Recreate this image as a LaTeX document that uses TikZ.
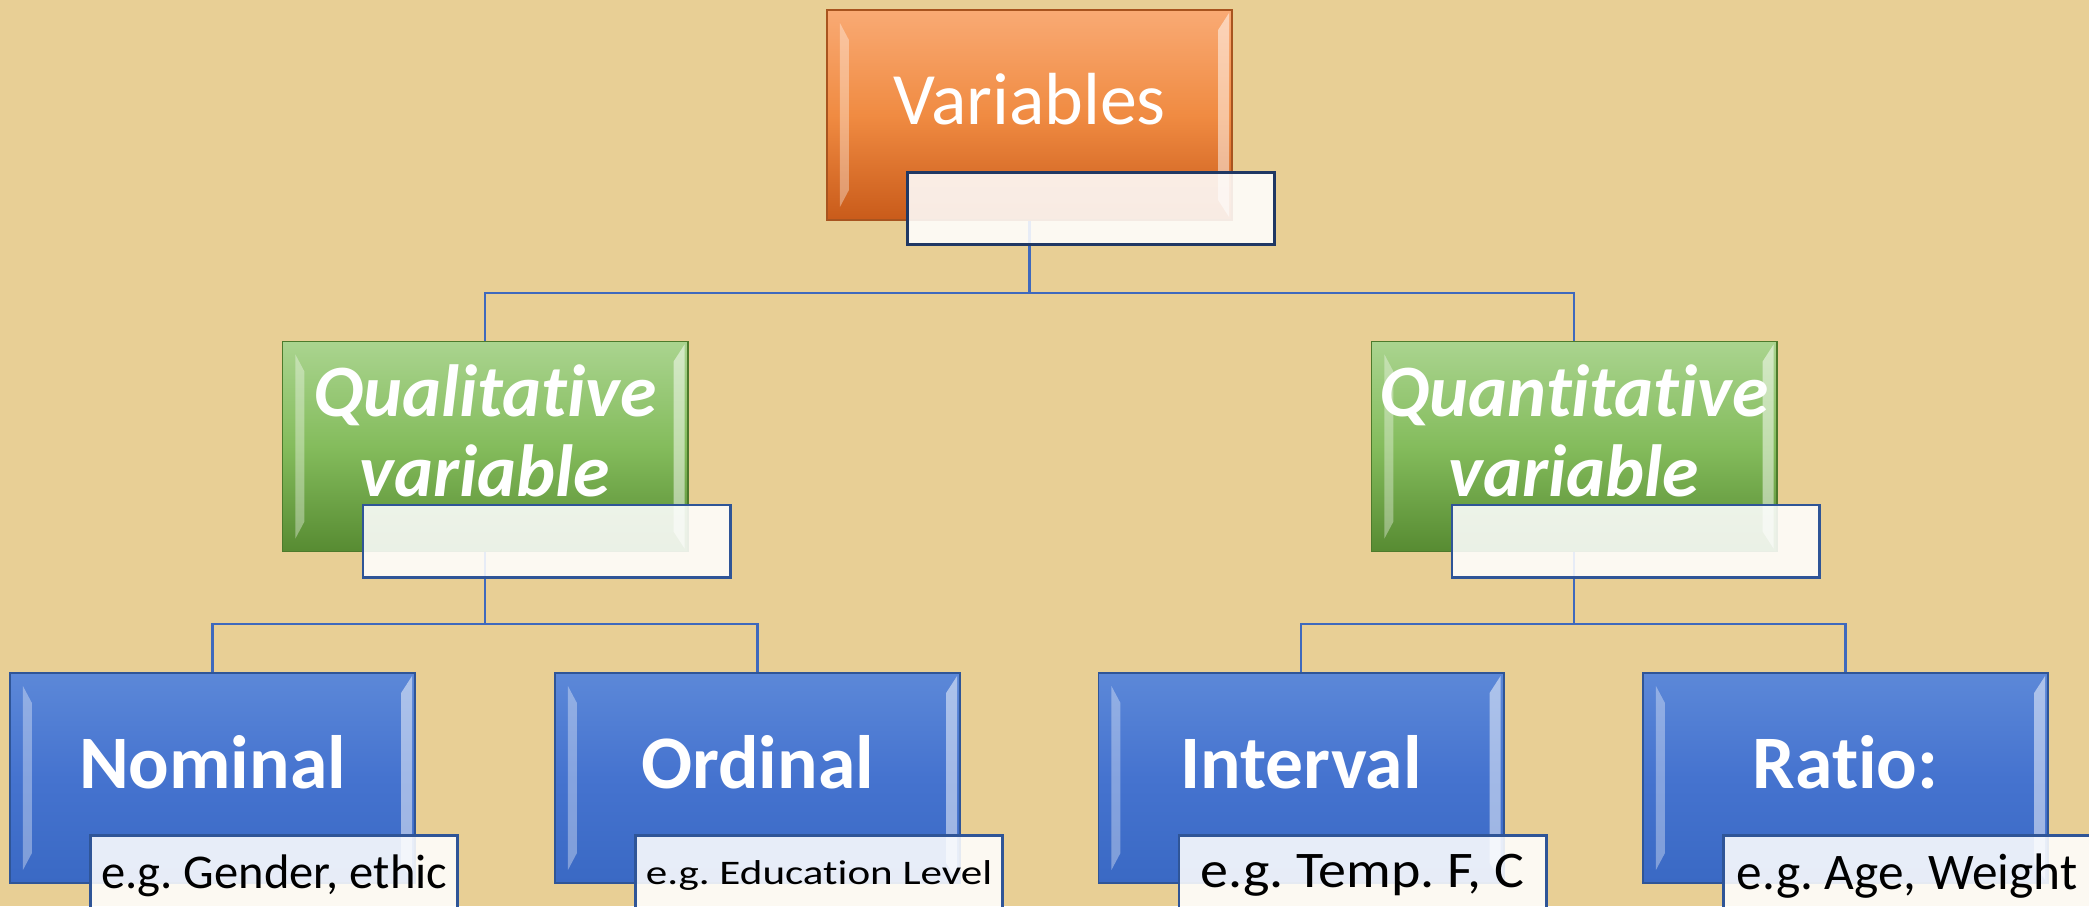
\documentclass[tikz,border=0pt]{standalone}
\usepackage{fontspec}
\setmainfont{Carlito}[Ligatures={NoCommon}]
\usepackage{tikz}
\usetikzlibrary{positioning, calc}
\frenchspacing
\definecolor{paper}{HTML}{E8CF95}
\definecolor{orangetop}{HTML}{F9AA74}
\definecolor{orangemid}{HTML}{F08B42}
\definecolor{orangebot}{HTML}{C95B1A}
\definecolor{orangeline}{HTML}{A8541F}
\definecolor{greentop}{HTML}{AAD48F}
\definecolor{greenmid}{HTML}{84BC5C}
\definecolor{greenbot}{HTML}{578B32}
\definecolor{greenline}{HTML}{4D7A2C}
\definecolor{bluetop}{HTML}{5C88D8}
\definecolor{bluemid}{HTML}{4573CF}
\definecolor{bluebot}{HTML}{3A69C4}
\definecolor{blueline}{HTML}{2F5597}
\definecolor{rootline}{HTML}{203864}
\definecolor{linkblue}{HTML}{3E69BD}

\tikzset{
	bevel/.style={path picture={
		\coordinate (bvnw) at (path picture bounding box.north west);
		\coordinate (bvse) at (path picture bounding box.south east);
		\fill[white, opacity=.35] ($(bvnw)+(0.13cm,-0.13cm)$) -- ($(bvnw)+(0.22cm,-0.30cm)$)
			-- ($(bvnw |- bvse)+(0.22cm,0.30cm)$) -- ($(bvnw |- bvse)+(0.13cm,0.13cm)$) -- cycle;
		\fill[white, opacity=.5] ($(bvse |- bvnw)+(-0.03cm,-0.03cm)$) -- ($(bvse |- bvnw)+(-0.14cm,-0.20cm)$)
			-- ($(bvse)+(-0.14cm,0.20cm)$) -- ($(bvse)+(-0.03cm,0.03cm)$) -- cycle;
	}},
	level box/.style={rectangle, line width=0.5pt, minimum width=4.05cm, minimum height=2.1cm, inner sep=0pt, bevel},
	root box/.style={level box, draw=orangeline, top color=orangetop, bottom color=orangebot, middle color=orangemid},
	kind box/.style={level box, draw=greenline, top color=greentop, bottom color=greenbot, middle color=greenmid},
	scale box/.style={level box, draw=blueline, top color=bluetop, bottom color=bluebot, middle color=bluemid},
	root text/.style={text=white, font=\fontsize{21}{23}\selectfont},
	kind text/.style={text=white, align=center, font=\fontsize{21}{22.8}\selectfont\bfseries\itshape},
	scale text/.style={text=white, font=\fontsize{21.5}{24}\selectfont\bfseries},
	note/.style={anchor=north west, draw=blueline, line width=0.8pt, fill=white, fill opacity=0.88, text opacity=1,
		minimum width=3.67cm, minimum height=0.72cm, inner sep=0pt},
	example/.style={note, minimum height=0.8cm, text=black},
	link/.style={draw=linkblue, line width=0.7pt}
}

\begin{document}
\begin{tikzpicture}[x=0.01cm, y=-0.01cm]
	\useasboundingbox (0,0) rectangle (2089,906);
	\clip (0,0) rectangle (2089,906);
	\fill[paper] (0,0) rectangle (2089,906);

	% boxes
	\node[root box] (var) at (1029.5,115) {};
	\node[kind box] (qual) at (485,446.5) {};
	\node[kind box] (quan) at (1574,446.5) {};
	\node[scale box] (nom) at (212.5,778) {};
	\node[scale box] (ord) at (757.5,778) {};
	\node[scale box] (int) at (1301,778) {};
	\node[scale box] (rat) at (1845.5,778) {};

	% connectors
	\coordinate (topbus) at (1029.5,293);
	\coordinate (leftbus) at (485,624);
	\coordinate (rightbus) at (1574,624);
	\draw[link] (var.south) -- (topbus) -| (qual.north);
	\draw[link] (topbus) -| (quan.north);
	\draw[link] (qual.south) -- (leftbus) -| (nom.north);
	\draw[link] (leftbus) -| (ord.north);
	\draw[link] (quan.south) -- (rightbus) -| (int.north);
	\draw[link] (rightbus) -| (rat.north);

	% notes and texts
	\node[note, draw=rootline] (varnote) at ([shift={(0.8cm,-1.62cm)}]var.north west) {};
	\node[root text] (vartext) at ([yshift=0.16cm]var.center) {Variables};
	\node[note] (qualnote) at ([shift={(0.8cm,-1.63cm)}]qual.north west) {};
	\node[kind text] (qualtext) at ([yshift=0.16cm]qual.center) {Qualitative\\variable};
	\node[note] (quannote) at ([shift={(0.8cm,-1.63cm)}]quan.north west) {};
	\node[kind text] (quantext) at ([yshift=0.16cm]quan.center) {Quantitative\\variable};

	\node[scale text] (nomtext) at ([yshift=0.16cm]nom.center) {Nominal};
	\node[scale text] (ordtext) at ([yshift=0.16cm]ord.center) {Ordinal};
	\node[scale text] (inttext) at ([yshift=0.16cm]int.center) {Interval};
	\node[scale text] (rattext) at ([yshift=0.16cm]rat.center) {Ratio:};
	\node[example, font=\fontsize{13.8}{15}\selectfont] (nomnote) at ([shift={(0.8cm,-1.62cm)}]nom.north west) {e.g. Gender, ethic};
	\node[example, font=\fontsize{9.8}{12}\selectfont\addfontfeature{FakeStretch=1.25}] (ordnote) at ([shift={(0.8cm,-1.62cm)}]ord.north west) {e.g. Education Level};
	\node[example, font=\fontsize{14.6}{16}\selectfont\addfontfeature{FakeStretch=1.09}] (intnote) at ([shift={(0.8cm,-1.62cm)}]int.north west) {e.g. Temp. F, C};
	\node[example, font=\fontsize{14.6}{16}\selectfont] (ratnote) at ([shift={(0.8cm,-1.62cm)}]rat.north west) {e.g. Age, Weight};
\end{tikzpicture}
\end{document}
